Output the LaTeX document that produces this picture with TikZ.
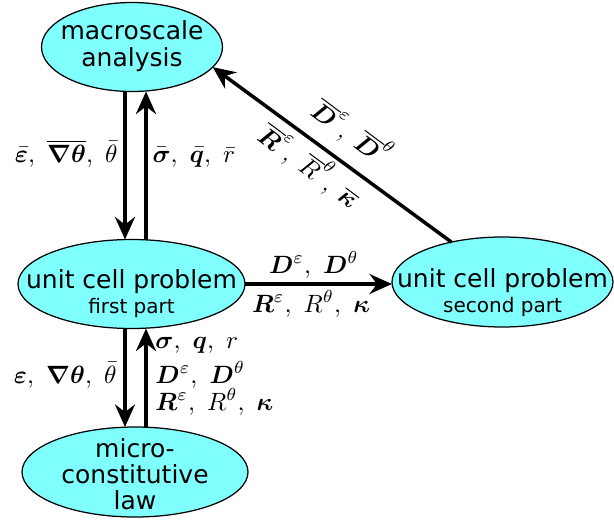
\documentclass[tikz,border=0pt]{standalone}
\usepackage{amsmath}
\usepackage{bm}
\usepackage[no-math]{fontspec}
\setmainfont{DejaVu Sans}
\usetikzlibrary{arrows.meta,shapes.geometric}
\definecolor{cellcyan}{RGB}{128,255,255}
\newcommand{\ctext}[2]{\makebox[0pt]{\raisebox{#1}[0pt][0pt]{\begin{tabular}[t]{@{}c@{}}#2\end{tabular}}}}
\tikzset{
  cell/.style={ellipse, draw=black, line width=0.5pt, fill=cellcyan, inner sep=0pt, outer sep=0pt, font=\fontsize{10}{10}\selectfont},
  arr/.style={line width=1.4pt, -{Stealth[length=9pt,width=8pt,inset=3pt]}},
  lbl/.style={inner sep=0pt, font=\fontsize{10}{12}\selectfont},
}
\begin{document}
\begin{tikzpicture}[x=0.4pt,y=-0.4pt]
\useasboundingbox (0,0) rectangle (614,520);
\node[cell, minimum width=72.4pt, minimum height=35.6pt] (macro) at (132,47) {\ctext{2.8pt}{macroscale\\analysis}};
\node[cell, minimum width=90.8pt, minimum height=35.6pt] (first) at (131.5,284) {\ctext{-1.6pt}{unit cell problem\\\fontsize{8}{8}\selectfont first part}};
\node[cell, minimum width=88.4pt, minimum height=36pt] (second) at (502.5,282) {\ctext{-2pt}{unit cell problem\\\fontsize{8}{8}\selectfont second part}};
\node[cell, minimum width=90.4pt, minimum height=36pt] (micro) at (135,472) {\ctext{6pt}{micro-\\constitutive\\law}};
\coordinate (xa) at (125,0);
\coordinate (xb) at (146,0);
\draw[arr] (macro.south -| xa) -- (first.north -| xa);
\draw[arr] (first.north -| xb) -- (macro.south -| xb);
\draw[arr] (first.south -| xa) -- (micro.north -| xa);
\draw[arr] (micro.north -| xb) -- (first.south -| xb);
\draw[arr] (first.east) -- (first.east -| second.west);
\draw[arr] (second.142) -- (macro.-14);
\node[lbl, anchor=base east] (l1) at (118,162) {$\bar{\bm\varepsilon},\ \overline{\bm\nabla\bm\theta},\ \bar\theta$};
\node[lbl, anchor=base west] (l2) at (152,162) {$\bar{\bm\sigma},\ \bar{\bm q},\ \bar r$};
\node[lbl, rotate=-36.7] (l3) at (352,132) {$\overline{\bm D}^\varepsilon,\ \overline{\bm D}^\theta$};
\node[lbl, rotate=-36.7] (l4) at (310,165) {$\overline{\bm R}^\varepsilon,\ \overline{R}^\theta,\ \overline{\bm\kappa}$};
\node[lbl, anchor=base] (l5) at (314,273) {$\bm D^\varepsilon,\ \bm D^\theta$};
\node[lbl, anchor=base] (l6) at (311,312) {$\bm R^\varepsilon,\ R^\theta,\ \bm\kappa$};
\node[lbl, anchor=base east] (l7) at (117,383) {$\bm\varepsilon,\ \bm\nabla\bm\theta,\ \bar\theta$};
\node[lbl, anchor=base west] (l8) at (155,348) {$\bm\sigma,\ \bm q,\ r$};
\node[lbl, anchor=base west] (l9) at (155,383) {$\bm D^\varepsilon,\ \bm D^\theta$};
\node[lbl, anchor=base west] (l10) at (155,410) {$\bm R^\varepsilon,\ R^\theta,\ \bm\kappa$};
\end{tikzpicture}
\end{document}
